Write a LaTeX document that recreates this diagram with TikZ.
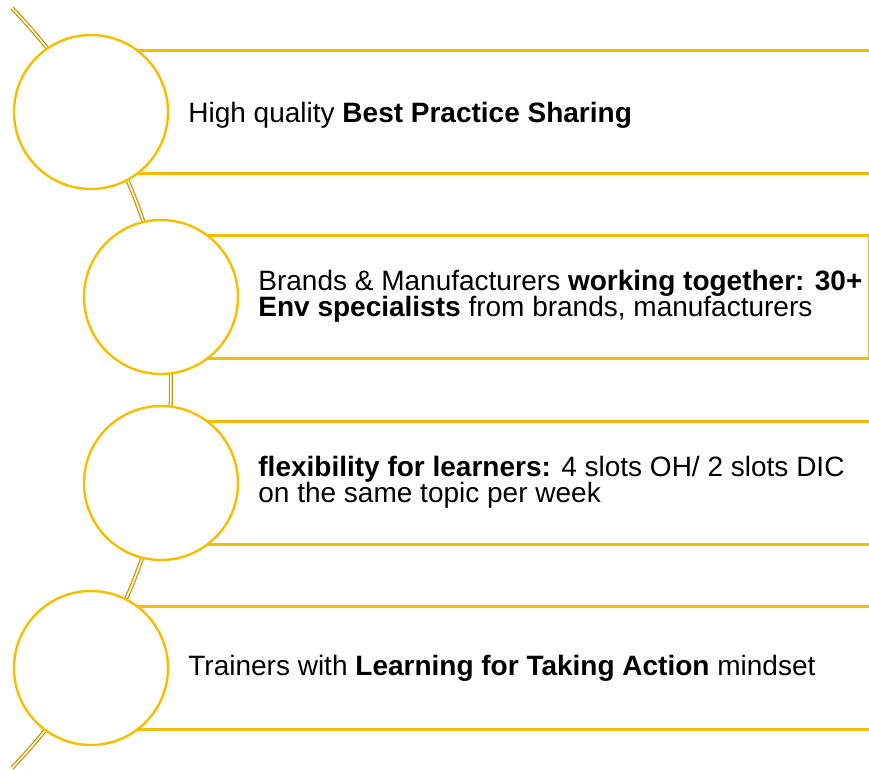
\documentclass[tikz,border=0pt]{standalone}
\usepackage{fontspec}
\setmainfont{Liberation Sans}
\definecolor{ringgold}{HTML}{F5BE00}
\definecolor{spinegold}{HTML}{C59B00}

\begin{document}
\begin{tikzpicture}[x=0.5pt,y=-0.5pt,
        ring/.style={circle,draw=ringgold,line width=1.2pt,fill=white,minimum size=77pt,inner sep=0pt},
        band/.style={rectangle,draw=ringgold,line width=1.1pt,minimum height=61.5pt,inner sep=0pt,anchor=west},
        spine/.style={draw=spinegold,double=white,double distance=0.75pt,line width=0.65pt},
        caption/.style={anchor=west,align=left,inner sep=0pt,font=\fontsize{14}{13.2}\selectfont}]
                \useasboundingbox (0,0) rectangle (869,771);

                \coordinate (st) at (12,8);
                \coordinate (sb) at (12,768);
                \coordinate (C1) at (91,112);
                \coordinate (C2) at (161,297);
                \coordinate (C3) at (161,483);
                \coordinate (C4) at (91,668);

                \draw[spine] (st) .. controls (224,230) and (224,546) .. (sb);

                \node[band,minimum width=392pt] (b1) at (C1) {};
                \node[band,minimum width=353.5pt] (b2) at (C2) {};
                \node[band,minimum width=357pt] (b3) at (C3) {};
                \node[band,minimum width=392pt] (b4) at (C4) {};

                \node[ring] (r1) at (C1) {};
                \node[ring] (r2) at (C2) {};
                \node[ring] (r3) at (C3) {};
                \node[ring] (r4) at (C4) {};

                \node[caption] (t1) at (188,115) {High quality \textbf{Best Practice Sharing}};
                \node[caption] (t2) at (258,296) {Brands \& Manufacturers \textbf{working together: 30+}\\\textbf{Env specialists} from brands, manufacturers};
                \node[caption] (t3) at (258,482) {\textbf{flexibility for learners:} 4 slots OH/ 2 slots DIC\\on the same topic per week};
                \node[caption] (t4) at (188,668) {Trainers with \textbf{Learning for Taking Action} mindset};
            \end{tikzpicture}
\end{document}
